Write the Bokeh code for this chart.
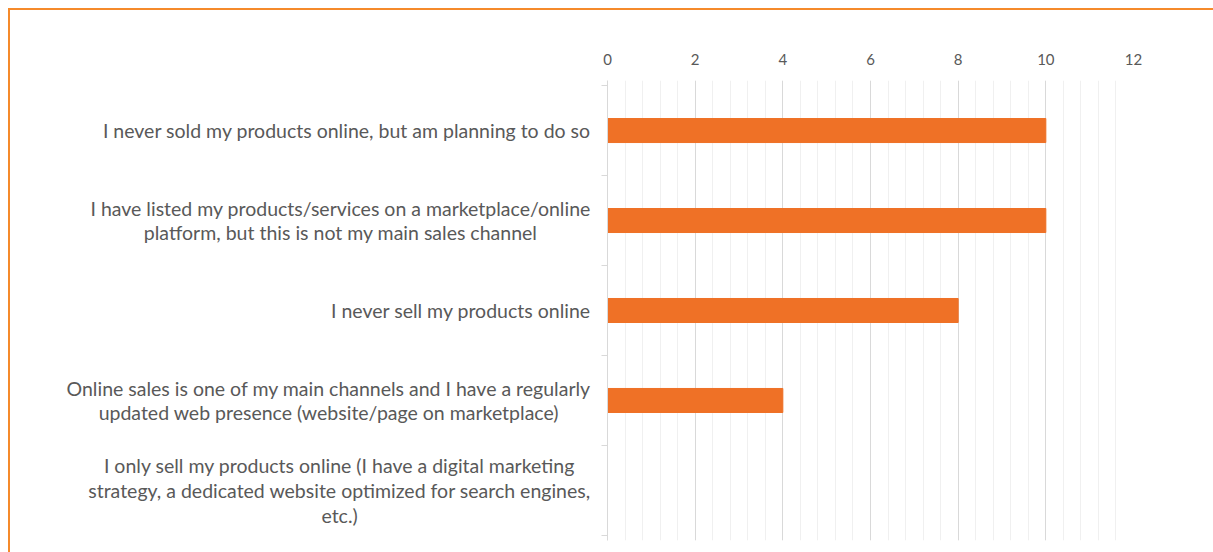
import glob
from bokeh.plotting import figure
from bokeh.layouts import row
from bokeh.models import Range1d, FixedTicker, ColumnDataSource
from bokeh.core.properties import value
from bokeh.embed import file_html
from bokeh.resources import INLINE

categories = [
    "I never sold my products online, but am planning to do so",
    "I have listed my products/services on a marketplace/online\nplatform, but this is not my main sales channel",
    "I never sell my products online",
    "Online sales is one of my main channels and I have a regularly\nupdated web presence (website/page on marketplace)",
    "I only sell my products online (I have a digital marketing\nstrategy, a dedicated website optimized for search engines,\netc.)",
]
values = [10, 10, 8, 4, 0]
x_ticks = [0, 2, 4, 6, 8, 10, 12]

FONT = "Lato"
LABEL_PX = 19.5

n = len(categories)
ypos = list(range(n))

_font = None
try:
    from PIL import ImageFont
    cands = [f for f in glob.glob("/usr/share/fonts/**/*.ttf", recursive=True)
             if "Lato-Regular" in f]
    if cands:
        _font = ImageFont.truetype(cands[0], LABEL_PX)
except Exception:
    _font = None


def text_w(s):
    if _font is not None:
        try:
            return _font.getlength(s)
        except Exception:
            pass
    return len(s) * LABEL_PX * 0.48


pad = 0.056
yr = Range1d(n - 0.5 + pad, -0.5 - pad)
TOP, BOTTOM = 70, 12
H = 542
LW = 587
RW = 1203 - LW

# left panel with centered category labels
lp = figure(width=LW, height=H, output_backend="svg", toolbar_location=None,
            x_range=Range1d(0, LW), y_range=yr,
            min_border_left=0, min_border_right=0, min_border_top=TOP, min_border_bottom=BOTTOM)
lp.axis.visible = False
lp.grid.visible = False
lp.outline_line_color = None

label_right = 580
centers = [label_right - max(text_w(l) for l in c.split("\n")) / 2 for c in categories]
src = ColumnDataSource(dict(x=centers, y=ypos, text=categories))
lp.text(x="x", y="y", text="text", source=src, text_align="center", text_baseline="middle",
        text_font=value(FONT), text_font_size=f"{LABEL_PX}px", text_color="#595959",
        text_line_height=1.08)

# chart panel
p = figure(width=RW, height=H, output_backend="svg", toolbar_location=None,
           x_range=Range1d(0, 12), y_range=yr, x_axis_location="above",
           min_border_left=10, min_border_right=80, min_border_top=TOP, min_border_bottom=BOTTOM)
p.outline_line_color = None

p.hbar(y=ypos, right=values, height=0.267, left=0, color="#EF7126")

xa = p.xaxis[0]
xa.ticker = FixedTicker(ticks=x_ticks, minor_ticks=[i * 0.4 for i in range(31)])
xa.axis_line_color = None
xa.major_tick_line_color = None
xa.minor_tick_line_color = None
xa.major_label_text_color = "#595959"
xa.major_label_text_font = FONT
xa.major_label_text_font_size = "15px"
xa.major_label_standoff = 10

ya = p.yaxis[0]
ya.ticker = FixedTicker(ticks=ypos, minor_ticks=[i + 0.5 for i in range(-1, n)])
ya.major_label_text_font_size = "0px"
ya.major_label_text_color = None
ya.axis_line_color = "#d9d9d9"
ya.major_tick_line_color = None
ya.minor_tick_line_color = "#d9d9d9"
ya.minor_tick_out = 6
ya.minor_tick_in = 0

p.xgrid.grid_line_color = "#d9d9d9"
p.xgrid.minor_grid_line_color = "#f0f0f0"
p.ygrid.grid_line_color = None

layout = row(lp, p, spacing=0,
             styles={"border-top": "2px solid #F58A2B", "border-left": "2px solid #F58A2B",
                     "margin-left": "8px", "margin-top": "8px"})

open("out.html", "w").write(file_html(layout, INLINE))
